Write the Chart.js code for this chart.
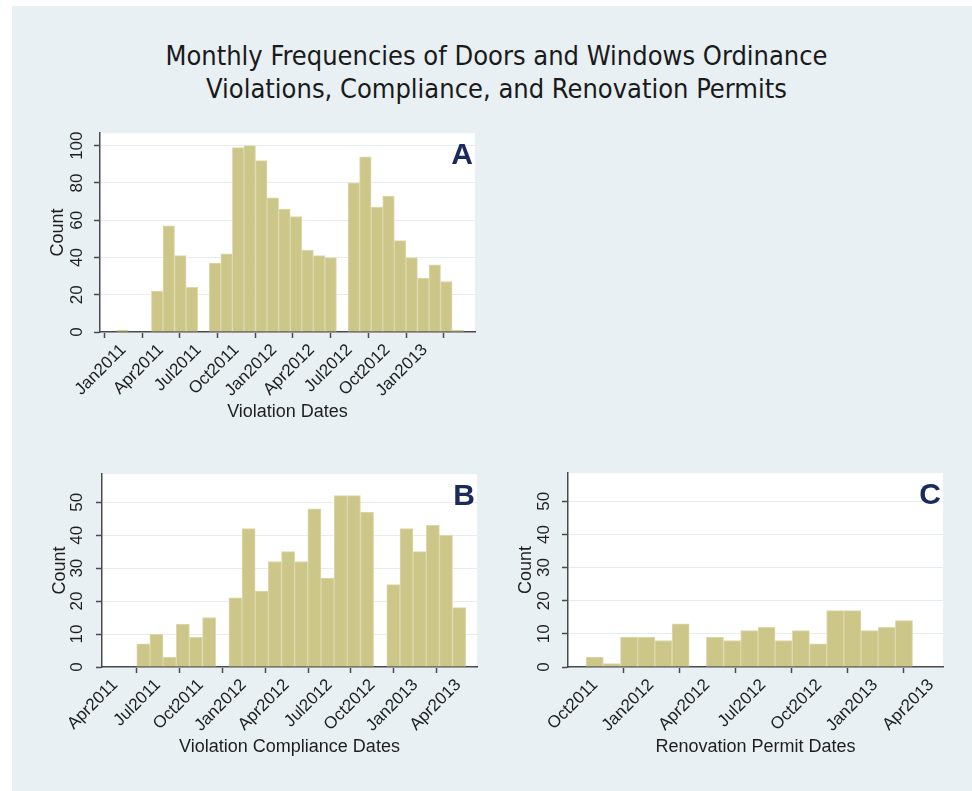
<!DOCTYPE html>
<html>
<head>
<meta charset="utf-8">
<script src="https://cdn.jsdelivr.net/npm/chart.js@4.4.1/dist/chart.umd.min.js"></script>
<style>
  body { margin: 0; width: 972px; height: 791px; overflow: hidden; position: relative; background: #fff; font-family: "Liberation Sans", Arial, sans-serif; }
  #bg { position: absolute; left: 12px; top: 6px; right: 0; bottom: 0; background: #e8f0f3; }
  #title { position: absolute; left: 20px; width: 953px; top: 39px; text-align: center; color: #1a1a1a;
           font-family: "Liberation Sans Narrow", "DejaVu Sans Condensed", sans-serif; font-size: 27px; line-height: 33px; }
  canvas { position: absolute; }
</style>
</head>
<body>
<div id="bg"></div>
<div id="title">Monthly Frequencies of Doors and Windows Ordinance<br>Violations, Compliance, and Renovation Permits</div>
<canvas id="panelA" width="460" height="310" style="left:30px; top:120px;"></canvas>
<canvas id="panelB" width="460" height="310" style="left:32px; top:455px;"></canvas>
<canvas id="panelC" width="460" height="310" style="left:498px; top:455px;"></canvas>
<script>
// --- data (x in months since Jan2011, bins ~28 days wide) ---
const violationCounts = [1, 0, 0, 22, 57, 41, 24, 0, 37, 42, 99, 100, 92, 72, 66, 62, 44, 41, 40, 0, 80, 94, 67, 73, 49, 40, 29, 36, 27, 1];
const complianceCounts = [7, 10, 3, 13, 9, 15, 0, 21, 42, 23, 32, 35, 32, 48, 27, 52, 52, 47, 0, 25, 42, 35, 43, 40, 18];
const permitCounts = [3, 1, 9, 9, 8, 13, 0, 9, 8, 11, 12, 8, 11, 7, 17, 17, 11, 12, 14];

const binStartA = -0.52, binStartB = 4.52, binStartC = 8.52;
const binWidth = 0.92;

const tickMonthsA = [0, 3, 6, 9, 12, 15, 18, 21, 24];
const tickLabelsA = ['Jan2011', 'Apr2011', 'Jul2011', 'Oct2011', 'Jan2012', 'Apr2012', 'Jul2012', 'Oct2012', 'Jan2013'];
const tickMonthsB = [3, 6, 9, 12, 15, 18, 21, 24, 27];
const tickLabelsB = ['Apr2011', 'Jul2011', 'Oct2011', 'Jan2012', 'Apr2012', 'Jul2012', 'Oct2012', 'Jan2013', 'Apr2013'];
const tickMonthsC = [9, 12, 15, 18, 21, 24, 27];
const tickLabelsC = ['Oct2011', 'Jan2012', 'Apr2012', 'Jul2012', 'Oct2012', 'Jan2013', 'Apr2013'];

const yTicksA = [0, 20, 40, 60, 80, 100];
const yTicksBC = [0, 10, 20, 30, 40, 50];

// --- styling ---
const BAR_FILL = '#cdc689';
const BAR_EDGE = '#ddd9ad';
const AXIS = '#4a4a4a';
const GRID = '#e4ecef';
const TEXT = '#1e1e1e';
const FONT = '"Liberation Sans", Arial, sans-serif';

// white plot region + panel letter
const panelDecor = {
    id: 'panelDecor',
    beforeDraw(chart) {
        const a = chart.chartArea, ctx = chart.ctx;
        ctx.save();
        ctx.fillStyle = '#ffffff';
        ctx.fillRect(a.left, a.top, a.right - a.left, a.bottom - a.top);
        ctx.restore();
    },
    afterDraw(chart, args, opts) {
        const a = chart.chartArea, ctx = chart.ctx;
        ctx.save();
        ctx.font = 'bold 30px ' + FONT;
        ctx.fillStyle = '#1b2a5c';
        ctx.textAlign = 'right';
        ctx.textBaseline = 'alphabetic';
        ctx.fillText(opts.letter, a.right - 2, a.top + 31);
        ctx.restore();
    }
};

function makePanel(id, cfg) {
    const points = cfg.counts.map((c, i) => ({ x: cfg.binStart + (i + 0.5) * binWidth, y: c }));
    return new Chart(document.getElementById(id), {
        type: 'bar',
        data: {
            datasets: [{
                data: points,
                backgroundColor: BAR_FILL,
                borderColor: BAR_EDGE,
                borderWidth: 1,
                barPercentage: 1,
                categoryPercentage: 1
            }]
        },
        plugins: [panelDecor],
        options: {
            responsive: false,
            animation: false,
            layout: { padding: { top: 10, right: 15, left: 0, bottom: 0 } },
            plugins: {
                legend: { display: false },
                tooltip: { enabled: false },
                panelDecor: { letter: cfg.letter }
            },
            scales: {
                x: {
                    type: 'linear',
                    offset: false,
                    min: cfg.xMin,
                    max: cfg.xMax,
                    afterBuildTicks: s => { s.ticks = cfg.tickMonths.map(v => ({ value: v })); },
                    afterFit: s => { s.height = 98; },
                    border: { color: AXIS, width: 1.5 },
                    grid: { drawOnChartArea: false, drawTicks: true, tickLength: 6, tickColor: AXIS, tickWidth: 1.5 },
                    ticks: {
                        minRotation: 45, maxRotation: 45, autoSkip: false, padding: 2,
                        color: TEXT, font: { family: FONT, size: 17 },
                        callback: (v, i) => cfg.tickLabels[i]
                    },
                    title: { display: true, text: cfg.xTitle, color: TEXT, font: { family: FONT, size: 18 }, padding: { top: 0, bottom: 7 } }
                },
                y: {
                    min: 0,
                    max: cfg.yMax,
                    afterBuildTicks: s => { s.ticks = cfg.yTicks.map(v => ({ value: v })); },
                    afterFit: s => { s.width = 70; },
                    border: { color: AXIS, width: 1.5 },
                    grid: { color: GRID, lineWidth: 1, drawTicks: true, tickLength: 6, tickColor: AXIS, tickWidth: 1.5 },
                    ticks: {
                        minRotation: 90, maxRotation: 90, crossAlign: 'center', padding: cfg.yPad,
                        color: TEXT, font: { family: FONT, size: 17 }
                    },
                    title: { display: true, text: 'Count', color: TEXT, font: { family: FONT, size: 18 }, padding: { top: 17, bottom: 0 } }
                }
            }
        }
    });
}

makePanel('panelA', {
    counts: violationCounts, binStart: binStartA, letter: 'A',
    xMin: -1.85, xMax: 27.98, tickMonths: tickMonthsA, tickLabels: tickLabelsA,
    yMax: 106.7, yTicks: yTicksA, yPad: 3, xTitle: 'Violation Dates'
});
makePanel('panelB', {
    counts: complianceCounts, binStart: binStartB, letter: 'B',
    xMin: 2.09, xMax: 28.31, tickMonths: tickMonthsB, tickLabels: tickLabelsB,
    yMax: 58.5, yTicks: yTicksBC, yPad: 9, xTitle: 'Violation Compliance Dates'
});
makePanel('panelC', {
    counts: permitCounts, binStart: binStartC, letter: 'C',
    xMin: 7.55, xMax: 27.63, tickMonths: tickMonthsC, tickLabels: tickLabelsC,
    yMax: 58.5, yTicks: yTicksBC, yPad: 8, xTitle: 'Renovation Permit Dates'
});
</script>
</body>
</html>
